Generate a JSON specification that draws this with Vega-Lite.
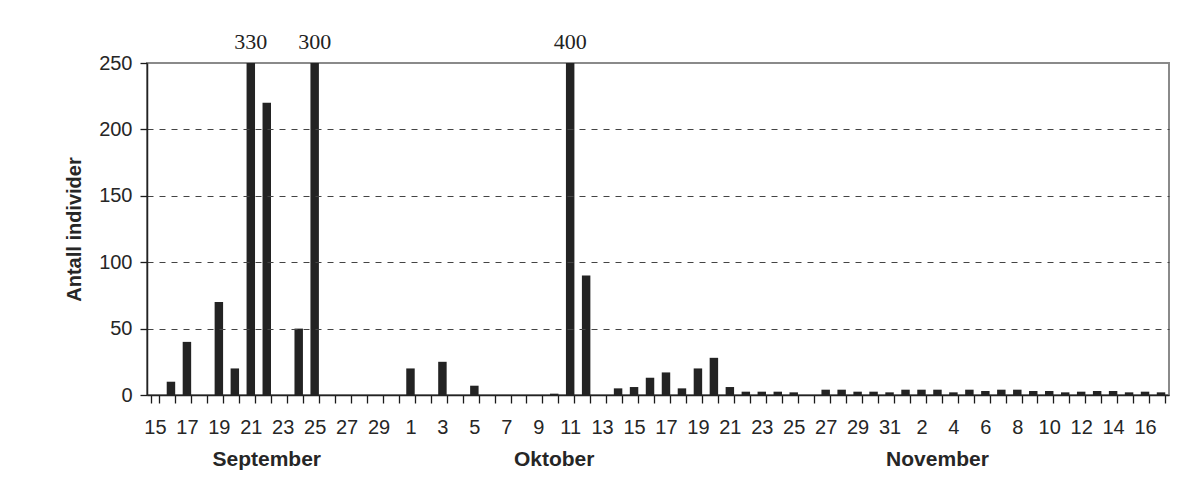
{
  "$schema": "https://vega.github.io/schema/vega-lite/v6.json",
  "autosize": {"type": "none"},
  "width": 1022,
  "height": 332,
  "padding": {"left": 147, "top": 63, "right": 20, "bottom": 92},
  "background": "#ffffff",
  "config": {
    "view": {"stroke": "#8a8a8a", "strokeWidth": 2}
  },
  "datasets": {
    "counts": [
      {"d": "09-15", "n": 0}, {"d": "09-16", "n": 10}, {"d": "09-17", "n": 40}, {"d": "09-18", "n": 0},
      {"d": "09-19", "n": 70}, {"d": "09-20", "n": 20}, {"d": "09-21", "n": 330}, {"d": "09-22", "n": 220},
      {"d": "09-23", "n": 0}, {"d": "09-24", "n": 50}, {"d": "09-25", "n": 300}, {"d": "09-26", "n": 0},
      {"d": "09-27", "n": 0}, {"d": "09-28", "n": 0}, {"d": "09-29", "n": 0}, {"d": "09-30", "n": 0},
      {"d": "10-01", "n": 20}, {"d": "10-02", "n": 0}, {"d": "10-03", "n": 25}, {"d": "10-04", "n": 0},
      {"d": "10-05", "n": 7}, {"d": "10-06", "n": 0}, {"d": "10-07", "n": 0}, {"d": "10-08", "n": 0},
      {"d": "10-09", "n": 0}, {"d": "10-10", "n": 1}, {"d": "10-11", "n": 400}, {"d": "10-12", "n": 90},
      {"d": "10-13", "n": 0}, {"d": "10-14", "n": 5}, {"d": "10-15", "n": 6}, {"d": "10-16", "n": 13},
      {"d": "10-17", "n": 17}, {"d": "10-18", "n": 5}, {"d": "10-19", "n": 20}, {"d": "10-20", "n": 28},
      {"d": "10-21", "n": 6}, {"d": "10-22", "n": 2.5}, {"d": "10-23", "n": 2.5}, {"d": "10-24", "n": 2.5},
      {"d": "10-25", "n": 2}, {"d": "10-26", "n": 0}, {"d": "10-27", "n": 4}, {"d": "10-28", "n": 4},
      {"d": "10-29", "n": 2.5}, {"d": "10-30", "n": 2.5}, {"d": "10-31", "n": 2}, {"d": "11-01", "n": 4},
      {"d": "11-02", "n": 4}, {"d": "11-03", "n": 4}, {"d": "11-04", "n": 2}, {"d": "11-05", "n": 4},
      {"d": "11-06", "n": 3}, {"d": "11-07", "n": 4}, {"d": "11-08", "n": 4}, {"d": "11-09", "n": 3},
      {"d": "11-10", "n": 3}, {"d": "11-11", "n": 2}, {"d": "11-12", "n": 2.5}, {"d": "11-13", "n": 3},
      {"d": "11-14", "n": 3}, {"d": "11-15", "n": 2}, {"d": "11-16", "n": 2.5}, {"d": "11-17", "n": 2}
    ],
    "months": [
      {"d": "09-22", "m": "September"},
      {"d": "10-10", "m": "Oktober"},
      {"d": "11-03", "m": "November"}
    ]
  },
  "encoding": {
    "x": {
      "field": "d", "type": "ordinal", "sort": "ascending",
      "scale": {"paddingInner": 0.47, "paddingOuter": 0.235},
      "axis": {
        "title": null, "labelAngle": 0, "labelOverlap": false, "tickBand": "extent",
        "labelFont": "Liberation Sans", "labelFontSize": 20, "labelColor": "#262626",
        "ticks": true, "tickSize": 8, "tickWidth": 1.3, "tickColor": "#1a1a1a", "zindex": 2,
        "domain": true, "domainColor": "#222", "domainWidth": 1.6, "labelPadding": 14,
        "labelExpr": "isString(datum.value) ? (((substring(datum.value,0,2)=='11') == (toNumber(substring(datum.value,3))%2==0)) ? (toNumber(substring(datum.value,3)) + '') : '') : ''"
      }
    }
  },
  "layer": [
    {
      "data": {"name": "counts"},
      "mark": {"type": "bar", "color": "#232323"},
      "encoding": {
        "y": {
          "field": "n", "type": "quantitative",
          "scale": {"domain": [0, 250], "clamp": true, "nice": false},
          "axis": {
            "title": "Antall individer", "titleFont": "Liberation Sans", "titleColor": "#262626", "titleFontSize": 20, "titleFontWeight": "bold", "titlePadding": 14,
            "labelFont": "Liberation Sans", "labelFontSize": 20, "labelColor": "#262626",
            "values": [0, 50, 100, 150, 200, 250], "ticks": true, "tickSize": 7, "tickWidth": 1.3, "tickColor": "#1a1a1a", "zindex": 2,
            "labelPadding": 8, "domainColor": "#222", "domainWidth": 1.5,
            "grid": true, "gridColor": "#444", "gridDash": [6, 6], "gridWidth": 1,
            "gridOpacity": {"condition": {"test": "datum.value == 250 || datum.value == 0", "value": 0}, "value": 1}
          }
        }
      }
    },
    {
      "data": {"name": "counts"},
      "transform": [{"filter": "datum.n > 250"}],
      "mark": {"type": "text", "font": "Liberation Serif", "fontSize": 22, "color": "#222", "baseline": "middle", "dy": -21},
      "encoding": {
        "y": {"datum": 250, "type": "quantitative"},
        "text": {"field": "n", "type": "quantitative"}
      }
    },
    {
      "data": {"name": "months"},
      "mark": {"type": "text", "font": "Liberation Sans", "fontSize": 21, "fontWeight": "bold", "color": "#262626", "baseline": "middle", "dy": 65},
      "encoding": {
        "y": {"datum": 0, "type": "quantitative"},
        "text": {"field": "m"}
      }
    }
  ]
}
